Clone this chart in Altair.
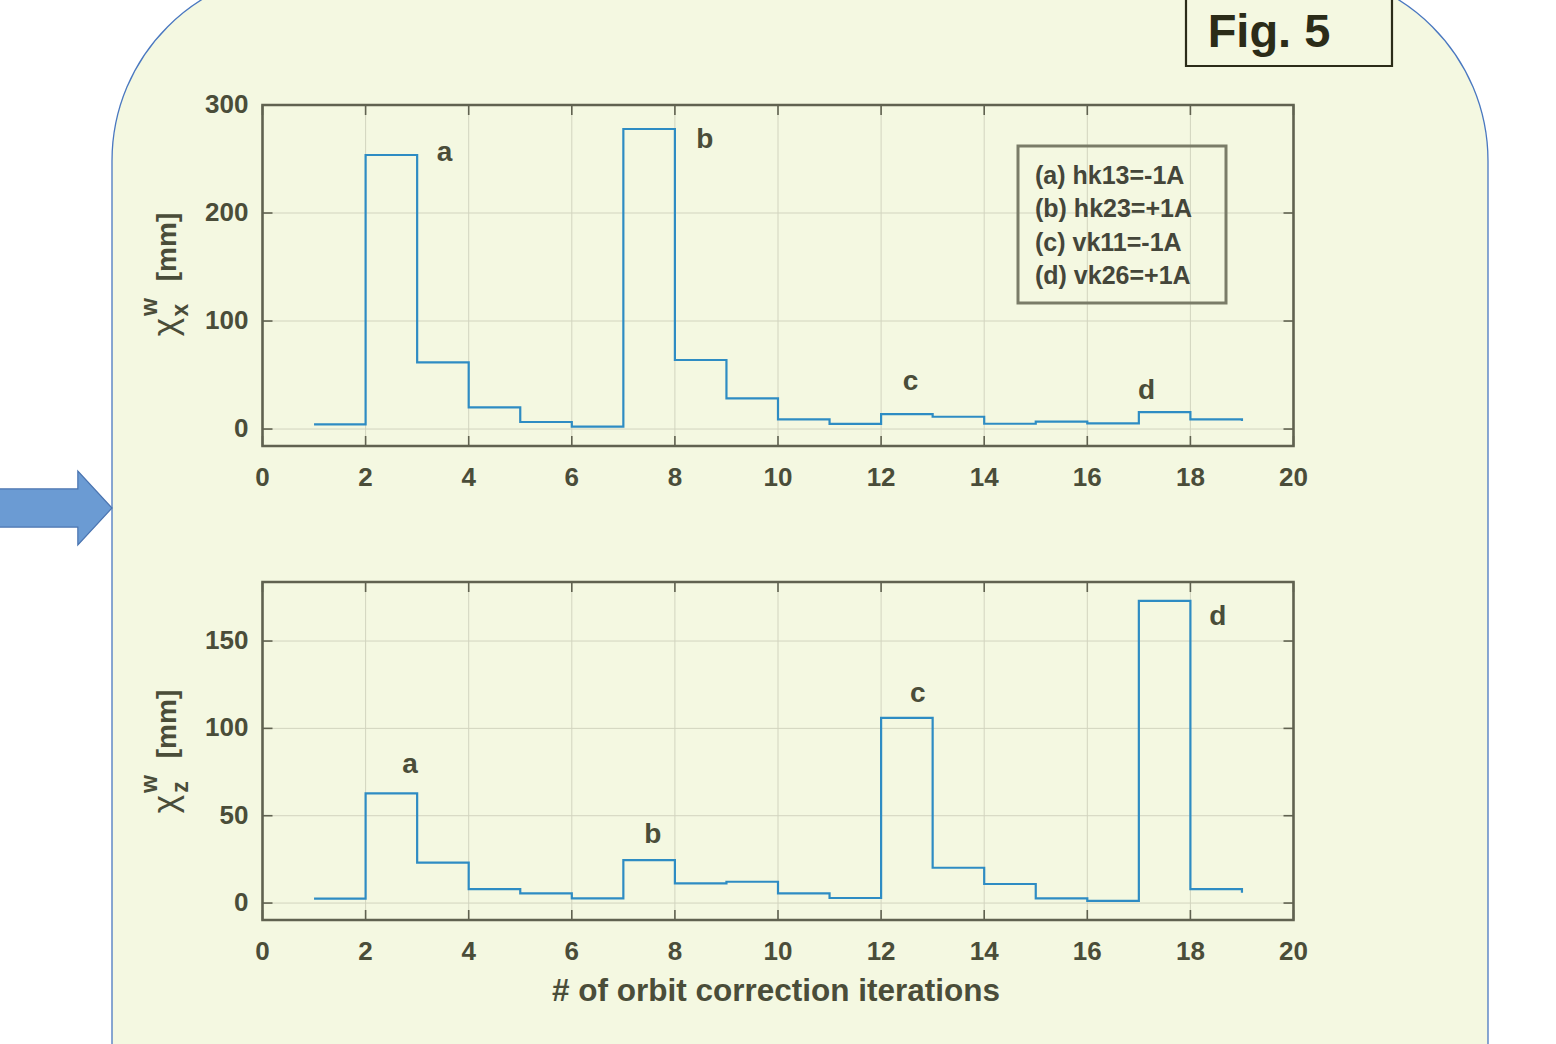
import altair as alt
import pandas as pd

# ---------------- data ----------------
ITER = list(range(1, 20))
CHI_X = [4.3, 253.7, 61.7, 20.0, 6.5, 2.2, 277.8, 63.9, 28.4, 9.0,
         4.8, 13.9, 11.4, 4.9, 6.8, 5.2, 15.7, 9.0, 7.4]
CHI_Z = [2.5, 62.8, 23.1, 8.0, 5.5, 2.7, 24.6, 11.3, 12.2, 5.5,
         2.9, 106.0, 20.2, 10.9, 2.7, 1.3, 173.0, 8.0, 5.9]
X_TICKS = [0, 2, 4, 6, 8, 10, 12, 14, 16, 18, 20]
Y_TICKS_TOP = [0, 100, 200, 300]
Y_TICKS_BOT = [0, 50, 100, 150]
LETTERS = ["a", "b", "c", "d"]
TOP_LAB_X = [3.53, 8.58, 12.57, 17.15]
TOP_LAB_Y = [248.0, 260.0, 36.0, 27.5]
BOT_LAB_X = [2.86, 7.57, 12.71, 18.53]
BOT_LAB_Y = [74.2, 34.5, 115.3, 159.2]
LEGEND_LINES = ["(a) hk13=-1A", "(b) hk23=+1A", "(c) vk11=-1A", "(d) vk26=+1A"]
X_DOMAIN = [0, 20]
TOP_DOMAIN = [-15.7, 300]
BOT_DOMAIN = [-9.7, 183.8]

# ---------------- style / layout ----------------
FONT = "Liberation Sans"
BG = "#f4f8e1"
BORDER = "#4a78c0"
TEXT = "#4a4d39"
FRAME = "#606250"
GRID = "#d2d4bf"
LINE = "#2e8cc3"
X_RANGE = [262.5, 1293.5]
TOP_RANGE = [446, 105]
BOT_RANGE = [920, 582]

ONE = pd.DataFrame({"k": [0]})


def deco():
    return alt.Chart(ONE)


def panel(values, yticks, dom, rng, lab_x, lab_y):
    xs = alt.Scale(domain=X_DOMAIN, range=X_RANGE, nice=False, zero=False)
    ys = alt.Scale(domain=dom, range=rng, nice=False, zero=False)
    ymin, ymax = dom
    xmin, xmax = X_DOMAIN
    vdf = pd.DataFrame({"t": X_TICKS, "y0": ymin, "y1": ymax})
    hdf = pd.DataFrame({"t": yticks, "x0": xmin, "x1": xmax})
    fdf = pd.DataFrame({"x0": [xmin], "x1": [xmax], "y0": [ymin], "y1": [ymax]})
    ldf = pd.DataFrame({"it": ITER, "v": values})
    adf = pd.DataFrame({"lx": lab_x, "ly": lab_y, "s": LETTERS})

    X = lambda f: alt.X(f, scale=xs, axis=None)
    Y = lambda f: alt.Y(f, scale=ys, axis=None)

    layers = [
        alt.Chart(vdf).mark_rule(color=GRID, strokeWidth=1).encode(
            x=X("t:Q"), y=Y("y0:Q"), y2="y1:Q"),
        alt.Chart(hdf).mark_rule(color=GRID, strokeWidth=1).encode(
            y=Y("t:Q"), x=X("x0:Q"), x2="x1:Q"),
        alt.Chart(ldf).mark_line(interpolate="step-after", color=LINE, strokeWidth=2.2).encode(
            x=X("it:Q"), y=Y("v:Q")),
        alt.Chart(vdf).mark_rule(color=FRAME, strokeWidth=1.6, y2Offset=-10).encode(
            x=X("t:Q"), y=Y("y0:Q"), y2="y0:Q"),
        alt.Chart(vdf).mark_rule(color=FRAME, strokeWidth=1.6, y2Offset=10).encode(
            x=X("t:Q"), y=Y("y1:Q"), y2="y1:Q"),
        alt.Chart(hdf).mark_rule(color=FRAME, strokeWidth=1.6, x2Offset=10).encode(
            y=Y("t:Q"), x=X("x0:Q"), x2="x0:Q"),
        alt.Chart(hdf).mark_rule(color=FRAME, strokeWidth=1.6, x2Offset=-10).encode(
            y=Y("t:Q"), x=X("x1:Q"), x2="x1:Q"),
        alt.Chart(fdf).mark_rect(filled=False, stroke=FRAME, strokeWidth=2.6).encode(
            x=X("x0:Q"), x2="x1:Q", y=Y("y0:Q"), y2="y1:Q"),
        alt.Chart(vdf).mark_text(dy=32, align="center", baseline="middle", font=FONT,
                                 fontSize=26, fontWeight="bold", color=TEXT).encode(
            x=X("t:Q"), y=Y("y0:Q"), text=alt.Text("t:Q", format="d")),
        alt.Chart(hdf).mark_text(dx=-14, align="right", baseline="middle", font=FONT,
                                 fontSize=26, fontWeight="bold", color=TEXT).encode(
            x=X("x0:Q"), y=Y("t:Q"), text=alt.Text("t:Q", format="d")),
        alt.Chart(adf).mark_text(align="center", baseline="alphabetic", font=FONT,
                                 fontSize=28, fontWeight="bold", color=TEXT).encode(
            x=X("lx:Q"), y=Y("ly:Q"), text="s:N"),
    ]
    return layers


def ytitle(sub, dy):
    common = dict(font=FONT, color=TEXT, angle=270, align="center", baseline="middle")
    return [
        deco().mark_text(text="[mm]", fontSize=28, fontWeight="bold", **common).encode(
            x=alt.value(168), y=alt.value(247 + dy)),
        deco().mark_text(text="\u03c7", fontSize=35, **common).encode(
            x=alt.value(166), y=alt.value(327 + dy)),
        deco().mark_text(text="w", fontSize=23, fontWeight="bold", **common).encode(
            x=alt.value(150), y=alt.value(307 + dy)),
        deco().mark_text(text=sub, fontSize=23, fontWeight="bold", **common).encode(
            x=alt.value(181), y=alt.value(310 + dy)),
    ]


ARROW = "M-1.2,-0.34L0.39,-0.34L0.39,-0.66L1,0L0.39,0.66L0.39,0.34L-1.2,0.34Z"

background = [
    deco().mark_rect(fill=BG, stroke=BORDER, strokeWidth=1.3, cornerRadius=190).encode(
        x=alt.value(112), x2=alt.value(1488), y=alt.value(-29), y2=alt.value(1400)),
    deco().mark_point(shape=ARROW, size=12544, filled=True, fill="#6b9bd3",
                      stroke="#4a74b0", strokeWidth=1.2, opacity=1).encode(
        x=alt.value(56), y=alt.value(508)),
    deco().mark_rect(fill=BG, stroke="#2b2c18", strokeWidth=2.2).encode(
        x=alt.value(1186), x2=alt.value(1392), y=alt.value(-5), y2=alt.value(66)),
    deco().mark_text(text="Fig. 5", font=FONT, fontSize=47, fontWeight="bold",
                     color="#2b2c18", align="center", baseline="alphabetic").encode(
        x=alt.value(1269), y=alt.value(47)),
]

legend = [
    deco().mark_rect(filled=False, stroke="#7a7c68", strokeWidth=3).encode(
        x=alt.value(1018), x2=alt.value(1226), y=alt.value(146), y2=alt.value(303)),
]
for i, line in enumerate(LEGEND_LINES):
    legend.append(
        deco().mark_text(text=line, font=FONT, fontSize=25, fontWeight="bold",
                         color="#44463a", align="left",
                         baseline="alphabetic").encode(
            x=alt.value(1035), y=alt.value(184 + i * 33.3)))

xtitle = [
    deco().mark_text(text="# of orbit correction iterations", font=FONT, fontSize=31.5,
                     fontWeight="bold", color=TEXT, align="center",
                     baseline="alphabetic").encode(x=alt.value(776), y=alt.value(1001)),
]

layers = (background
          + panel(CHI_X, Y_TICKS_TOP, TOP_DOMAIN, TOP_RANGE, TOP_LAB_X, TOP_LAB_Y)
          + legend
          + ytitle("x", 0)
          + panel(CHI_Z, Y_TICKS_BOT, BOT_DOMAIN, BOT_RANGE, BOT_LAB_X, BOT_LAB_Y)
          + ytitle("z", 477)
          + xtitle)

chart = alt.layer(*layers).resolve_scale(x="independent", y="independent").properties(
    width=1556, height=1044, padding=0, background="white",
    autosize=alt.AutoSizeParams(type="none"),
).configure_view(strokeWidth=0)

chart.save("out.html", embed_options={"renderer": "svg", "actions": False})
